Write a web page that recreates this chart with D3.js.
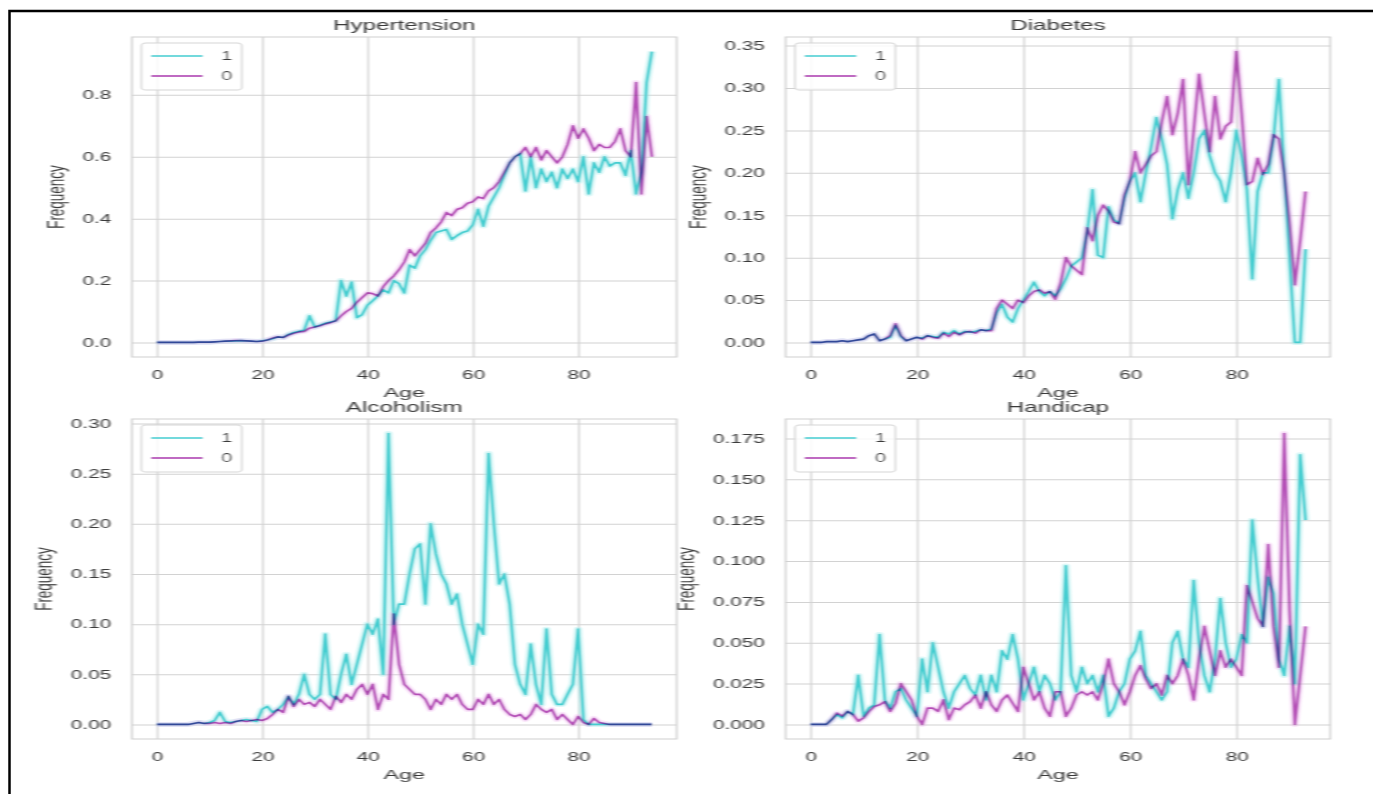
<!DOCTYPE html>
<html>
<head>
<meta charset="utf-8">
<script src="https://cdn.jsdelivr.net/npm/d3@7"></script>
<style>
  body { margin: 0; background: #fff; }
  svg { display: block; font-family: "Liberation Sans", Arial, sans-serif; }
</style>
</head>
<body>
<svg id="chart" width="1373" height="794"></svg>
<script>
// the reference picture is stretched sideways, so we draw in a narrow frame and scale x
var SX = 1373 / 794;

var titles = ["Hypertension", "Diabetes", "Alcoholism", "Handicap"];
var seriesNames = ["1", "0"];
var xTicks = [0, 20, 40, 60, 80];
var yTicksHyper = [0, 0.2, 0.4, 0.6, 0.8];
var yTicksDia = [0, 0.05, 0.10, 0.15, 0.20, 0.25, 0.30, 0.35];
var yTicksAlc = [0, 0.05, 0.10, 0.15, 0.20, 0.25, 0.30];
var yTicksHand = [0, 0.025, 0.05, 0.075, 0.10, 0.125, 0.15, 0.175];
var yFormats = [".1f", ".2f", ".2f", ".3f"];

// frequency by age (index = age)
var hyper1 = [0,0,0,0,0,0,0,0,0.001,0.001,
  0.001,0.002,0.003,0.004,0.004,0.005,0.006,0.005,0.004,0.003,
  0.005,0.008,0.012,0.018,0.016,0.026,0.032,0.036,0.04,0.086,
  0.05,0.056,0.062,0.066,0.07,0.2,0.15,0.195,0.08,0.09,
  0.12,0.135,0.15,0.17,0.16,0.2,0.19,0.16,0.25,0.24,
  0.28,0.3,0.33,0.355,0.36,0.365,0.333,0.345,0.355,0.36,
  0.38,0.43,0.376,0.44,0.47,0.5,0.54,0.58,0.6,0.61,
  0.49,0.6,0.5,0.56,0.52,0.55,0.5,0.56,0.53,0.56,
  0.52,0.6,0.48,0.58,0.55,0.6,0.57,0.58,0.58,0.54,
  0.62,0.48,0.55,0.84,0.94];
var hyper0 = [0,0,0,0,0,0,0,0,0.001,0.001,
  0.001,0.002,0.003,0.004,0.005,0.006,0.006,0.005,0.004,0.003,
  0.004,0.008,0.014,0.018,0.016,0.024,0.03,0.034,0.036,0.046,
  0.05,0.054,0.06,0.064,0.07,0.086,0.1,0.11,0.13,0.145,
  0.16,0.158,0.15,0.18,0.2,0.215,0.235,0.26,0.3,0.28,
  0.3,0.32,0.355,0.37,0.39,0.42,0.41,0.43,0.435,0.45,
  0.455,0.47,0.465,0.49,0.5,0.52,0.55,0.58,0.6,0.61,
  0.63,0.6,0.63,0.59,0.62,0.6,0.58,0.6,0.64,0.7,
  0.66,0.69,0.66,0.62,0.64,0.63,0.63,0.65,0.69,0.62,
  0.6,0.84,0.48,0.73,0.6];

var dia1 = [0,0,0,0.001,0.001,0.001,0.002,0.001,0.002,0.003,
  0.004,0.008,0.01,0.002,0.004,0.006,0.02,0.007,0.002,0.004,
  0.006,0.005,0.008,0.007,0.006,0.012,0.01,0.014,0.01,0.013,
  0.012,0.013,0.015,0.014,0.016,0.035,0.045,0.03,0.024,0.04,
  0.05,0.06,0.071,0.06,0.055,0.06,0.055,0.063,0.075,0.09,
  0.095,0.1,0.13,0.18,0.103,0.1,0.16,0.145,0.14,0.17,
  0.19,0.2,0.166,0.2,0.23,0.265,0.24,0.21,0.146,0.18,
  0.2,0.17,0.2,0.24,0.25,0.22,0.2,0.19,0.166,0.2,
  0.25,0.22,0.18,0.075,0.178,0.2,0.2,0.24,0.31,0.2,
  0.1,0.0,0.0,0.11];
var dia0 = [0,0,0,0.001,0.001,0.001,0.002,0.001,0.002,0.003,
  0.004,0.008,0.01,0.002,0.004,0.008,0.022,0.008,0.002,0.004,
  0.006,0.004,0.008,0.006,0.005,0.011,0.007,0.012,0.009,0.012,
  0.013,0.011,0.015,0.014,0.014,0.04,0.05,0.045,0.04,0.05,
  0.047,0.055,0.06,0.062,0.058,0.06,0.051,0.07,0.1,0.09,
  0.085,0.08,0.135,0.12,0.15,0.162,0.155,0.142,0.14,0.174,
  0.19,0.225,0.2,0.21,0.22,0.225,0.26,0.29,0.245,0.27,
  0.31,0.186,0.25,0.316,0.27,0.225,0.29,0.24,0.255,0.26,
  0.343,0.27,0.186,0.19,0.217,0.198,0.21,0.245,0.24,0.2,
  0.14,0.068,0.12,0.178];

var alc1 = [0,0,0,0,0,0,0,0.001,0.002,0.001,
  0.002,0.004,0.012,0.003,0.002,0.003,0.004,0.005,0.004,0.003,
  0.015,0.018,0.012,0.015,0.02,0.028,0.02,0.03,0.05,0.03,
  0.025,0.03,0.09,0.03,0.025,0.05,0.07,0.04,0.06,0.08,
  0.1,0.09,0.105,0.05,0.29,0.1,0.12,0.12,0.15,0.175,
  0.18,0.12,0.2,0.17,0.15,0.14,0.12,0.13,0.1,0.08,
  0.06,0.1,0.09,0.27,0.2,0.14,0.15,0.12,0.06,0.04,
  0.03,0.08,0.04,0.02,0.095,0.03,0.02,0.02,0.03,0.04,
  0.095,0.005,0,0,0,0,0,0,0,0,
  0,0,0,0,0];
var alc0 = [0,0,0,0,0,0,0,0.001,0.002,0.001,
  0.001,0.002,0.001,0.002,0.001,0.003,0.004,0.003,0.004,0.005,
  0.004,0.006,0.01,0.015,0.012,0.028,0.018,0.025,0.02,0.022,
  0.018,0.025,0.02,0.015,0.028,0.022,0.03,0.025,0.035,0.04,
  0.03,0.04,0.015,0.03,0.025,0.11,0.06,0.04,0.035,0.03,
  0.03,0.025,0.015,0.025,0.02,0.03,0.025,0.03,0.02,0.015,
  0.015,0.025,0.02,0.03,0.02,0.025,0.015,0.01,0.008,0.01,
  0.005,0.01,0.02,0.015,0.012,0.015,0.005,0.01,0.005,0.0,
  0.008,0.002,0.0,0.006,0.002,0.001,0,0,0,0,
  0,0,0,0,0];

var hand1 = [0,0,0,0,0.003,0.006,0.004,0.008,0.006,0.03,
  0.005,0.01,0.012,0.055,0.015,0.01,0.02,0.022,0.015,0.01,
  0.005,0.04,0.02,0.05,0.035,0.02,0.01,0.02,0.025,0.03,
  0.022,0.018,0.03,0.015,0.03,0.02,0.045,0.04,0.055,0.04,
  0.015,0.025,0.035,0.02,0.03,0.025,0.015,0.02,0.097,0.03,
  0.02,0.035,0.025,0.03,0.02,0.03,0.005,0.01,0.02,0.025,
  0.04,0.045,0.057,0.03,0.025,0.02,0.015,0.02,0.05,0.057,
  0.04,0.035,0.088,0.05,0.03,0.02,0.04,0.077,0.05,0.035,
  0.04,0.055,0.05,0.125,0.09,0.06,0.09,0.08,0.04,0.03,
  0.06,0.025,0.165,0.125];
var hand0 = [0,0,0,0,0.003,0.007,0.005,0.008,0.006,0.002,
  0.004,0.008,0.011,0.012,0.014,0.008,0.013,0.025,0.02,0.015,
  0.005,0,0.01,0.01,0.008,0.015,0.003,0.01,0.009,0.012,
  0.014,0.018,0.01,0.02,0.012,0.008,0.015,0.018,0.013,0.008,
  0.035,0.025,0.015,0.02,0.01,0.005,0.02,0.02,0.005,0.01,
  0.018,0.02,0.018,0.02,0.015,0.025,0.04,0.025,0.02,0.012,
  0.02,0.03,0.036,0.028,0.022,0.025,0.018,0.03,0.025,0.03,
  0.04,0.03,0.015,0.04,0.06,0.045,0.03,0.045,0.035,0.04,
  0.035,0.03,0.085,0.075,0.065,0.06,0.11,0.06,0.035,0.178,
  0.07,0,0.03,0.06];

var panels = [
  {title: titles[0], one: hyper1, zero: hyper0, yTicks: yTicksHyper, fmt: yFormats[0]},
  {title: titles[1], one: dia1,   zero: dia0,   yTicks: yTicksDia,   fmt: yFormats[1]},
  {title: titles[2], one: alc1,   zero: alc0,   yTicks: yTicksAlc,   fmt: yFormats[2]},
  {title: titles[3], one: hand1,  zero: hand0,  yTicks: yTicksHand,  fmt: yFormats[3]}
];

// layout in the narrow (unstretched) frame
var colLeft = [76.3, 454.3],
    rowTop = [37, 419],
    plotW = 315,
    plotH = 320;

var cyan = "#45cdd0", magenta = "#aa3aae";
var textColor = "#3a3a3a", gridColor = "#d2d2d2";

var svg = d3.select("#chart");

var defs = svg.append("defs");
defs.append("filter")
    .attr("id", "soft")
    .attr("x", "-2%").attr("y", "-2%").attr("width", "104%").attr("height", "104%")
  .append("feGaussianBlur")
    .attr("stdDeviation", 0.5);

var root = svg.append("g")
    .attr("transform", "scale(" + SX + ",1)")
    .attr("filter", "url(#soft)");

panels.forEach(function(p, k) {
  var left = colLeft[k % 2],
      top = rowTop[Math.floor(k / 2)];
  var n = p.one.length - 1;

  var x = d3.scaleLinear()
      .domain([-0.05 * n, 1.05 * n])
      .range([left, left + plotW]);

  var all = p.one.concat(p.zero);
  var lo = d3.min(all), hi = d3.max(all), pad = (hi - lo) * 0.05;
  var y = d3.scaleLinear()
      .domain([lo - pad, hi + pad])
      .range([top + plotH, top]);

  var g = root.append("g").attr("class", "panel");

  // grid + tick labels from d3 axes
  var xAxis = g.append("g")
      .attr("transform", "translate(0," + (top + plotH) + ")")
      .call(d3.axisBottom(x).tickValues(xTicks).tickSize(-plotH).tickPadding(13.5));
  var yAxis = g.append("g")
      .attr("transform", "translate(" + left + ",0)")
      .call(d3.axisLeft(y).tickValues(p.yTicks).tickFormat(d3.format(p.fmt)).tickSize(-plotW).tickPadding(12));

  [xAxis, yAxis].forEach(function(a) {
    a.select(".domain").remove();
    a.selectAll(".tick line").attr("stroke", gridColor).attr("stroke-width", 1);
    a.selectAll(".tick text")
        .attr("fill", textColor)
        .style("font-size", "12px")
        .style("font-family", '"Liberation Sans", Arial, sans-serif');
  });

  // axes frame
  g.append("rect")
      .attr("x", left).attr("y", top)
      .attr("width", plotW).attr("height", plotH)
      .attr("fill", "none")
      .attr("stroke", "#cfcfcf")
      .attr("stroke-width", 1);

  var line = d3.line()
      .x(function(d, i) { return x(i); })
      .y(function(d) { return y(d); });

  // soft halo under each line, like the reference's smeared strokes
  g.append("path").datum(p.one)
      .attr("d", line).attr("fill", "none")
      .attr("stroke", "#aeeeee").attr("stroke-width", 5).attr("stroke-opacity", 0.45)
      .attr("stroke-linejoin", "round");
  g.append("path").datum(p.zero)
      .attr("d", line).attr("fill", "none")
      .attr("stroke", "#f0b8f0").attr("stroke-width", 5).attr("stroke-opacity", 0.35)
      .attr("stroke-linejoin", "round");

  g.append("path").datum(p.one)
      .attr("d", line).attr("fill", "none")
      .attr("stroke", cyan).attr("stroke-width", 1.7)
      .attr("stroke-linejoin", "round");
  g.append("path").datum(p.zero)
      .attr("d", line).attr("fill", "none")
      .attr("stroke", magenta).attr("stroke-width", 1.7)
      .attr("stroke-linejoin", "round")
      .style("mix-blend-mode", "multiply")
      .attr("stroke-opacity", 0.85);

  // title and axis labels
  g.append("text")
      .attr("x", left + plotW / 2).attr("y", top - 7)
      .attr("text-anchor", "middle")
      .attr("fill", textColor)
      .style("font-size", "14px")
      .text(p.title);

  g.append("text")
      .attr("x", left + plotW / 2).attr("y", top + plotH + 40)
      .attr("text-anchor", "middle")
      .attr("fill", textColor)
      .style("font-size", "13.5px")
      .text("Age");

  // place the y label just left of the widest tick label
  var tickLeft = d3.min(yAxis.selectAll(".tick text").nodes(), function(t) {
    return left - 12 - t.getComputedTextLength();
  });
  g.append("text")
      .attr("transform", "translate(" + (tickLeft - 15.5) + "," + (top + plotH / 2) + ") rotate(-90)")
      .attr("text-anchor", "middle")
      .attr("dy", "0.35em")
      .attr("fill", textColor)
      .style("font-size", "13.5px")
      .text("Frequency");

  // legend
  var lg = g.append("g").attr("transform", "translate(" + (left + 5.5) + "," + (top + 6) + ")");
  lg.append("rect")
      .attr("width", 58).attr("height", 47).attr("rx", 2.5)
      .attr("fill", "#fff").attr("fill-opacity", 0.85)
      .attr("stroke", "#d6d6d6");
  [cyan, magenta].forEach(function(c, j) {
    var yy = 13 + j * 20;
    lg.append("line")
        .attr("x1", 5.5).attr("x2", 35.5).attr("y1", yy).attr("y2", yy)
        .attr("stroke", c).attr("stroke-width", 1.7);
    lg.append("text")
        .attr("x", 46).attr("y", yy).attr("dy", "0.35em")
        .attr("fill", textColor)
        .style("font-size", "12px")
        .text(seriesNames[j]);
  });
});

// thin black frame around the picture (only its top and left edges fall inside)
svg.append("rect")
    .attr("x", 9.5).attr("y", 11)
    .attr("width", 1400).attr("height", 800)
    .attr("fill", "none")
    .attr("stroke", "#000")
    .attr("stroke-width", 2.5);
</script>
</body>
</html>
